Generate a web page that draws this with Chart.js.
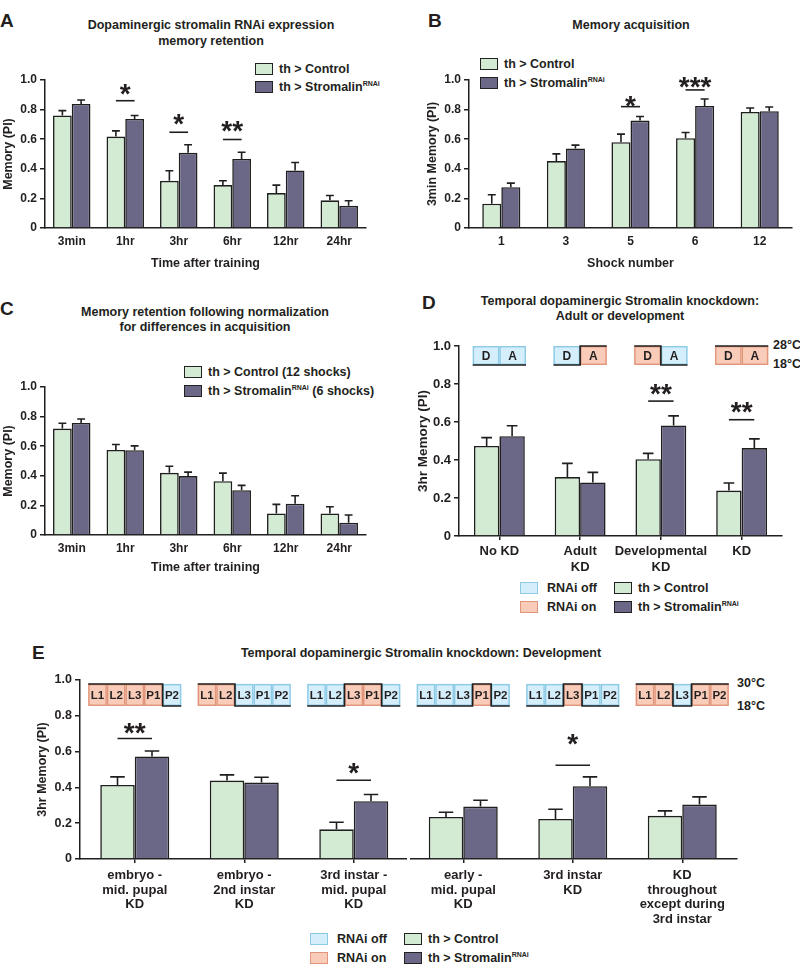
<!DOCTYPE html>
<html>
<head>
<meta charset="utf-8">
<script src="https://cdn.jsdelivr.net/npm/chart.js@4.4.1/dist/chart.umd.min.js"></script>
<style>
  body { margin: 0; width: 800px; height: 965px; position: relative; background: #fff;
         font-family: "Liberation Sans", Arial, sans-serif; font-weight: bold; color: #231f20; overflow: hidden; }
  canvas { position: absolute; }
  .letter { position: absolute; font-size: 19px; line-height: 19px; }
  .title { position: absolute; width: 400px; text-align: center; font-size: 12.5px; }
  .lg { position: absolute; display: flex; align-items: center; height: 14px; font-size: 12.5px; white-space: nowrap; }
  .sw { width: 18px; height: 12px; box-sizing: border-box; border: 1.5px solid #222; margin-right: 6px; }
  .sw.g { background: #d3ead3; }
  .sw.p { background: #6b6786; }
  .sw.off { background: #d4eefb; border-color: #8dcae6; margin-right: 9px; }
  .sw.on { background: #f8ccb8; border-color: #e1957b; margin-right: 9px; }
  sup { font-size: 7px; vertical-align: 5px; line-height: 0; }
  .temp { position: absolute; font-size: 12.5px; line-height: 16px; }
</style>
</head>
<body>

<div class="letter" style="left:0;top:11px">A</div>
<div class="letter" style="left:428px;top:11px">B</div>
<div class="letter" style="left:0;top:299px">C</div>
<div class="letter" style="left:422px;top:293px">D</div>
<div class="letter" style="left:32px;top:643px">E</div>

<div class="title" style="left:11px;top:17px;line-height:16px">Dopaminergic stromalin RNAi expression<br>memory retention</div>
<div class="title" style="left:431px;top:17px;line-height:16px">Memory acquisition</div>
<div class="title" style="left:5px;top:305px;line-height:15px">Memory retention following normalization<br>for differences in acquisition</div>
<div class="title" style="left:420px;top:294px;line-height:15px">Temporal dopaminergic Stromalin knockdown:<br>Adult or development</div>
<div class="title" style="left:221px;top:645px;line-height:16px">Temporal dopaminergic Stromalin knockdown: Development</div>

<div class="lg" style="left:255px;top:62px"><span class="sw g"></span><span>th &gt; Control</span></div>
<div class="lg" style="left:255px;top:80px"><span class="sw p"></span><span>th &gt; Stromalin<sup>RNAi</sup></span></div>

<div class="lg" style="left:480px;top:57px"><span class="sw g"></span><span>th &gt; Control</span></div>
<div class="lg" style="left:480px;top:76px"><span class="sw p"></span><span>th &gt; Stromalin<sup>RNAi</sup></span></div>

<div class="lg" style="left:184px;top:365px"><span class="sw g"></span><span>th &gt; Control (12 shocks)</span></div>
<div class="lg" style="left:184px;top:384px"><span class="sw p"></span><span>th &gt; Stromalin<sup>RNAi</sup> (6 shocks)</span></div>

<div class="lg" style="left:520px;top:581px"><span class="sw off"></span><span>RNAi off</span></div>
<div class="lg" style="left:520px;top:600px"><span class="sw on"></span><span>RNAi on</span></div>
<div class="lg" style="left:614px;top:581px"><span class="sw g"></span><span>th &gt; Control</span></div>
<div class="lg" style="left:614px;top:600px"><span class="sw p"></span><span>th &gt; Stromalin<sup>RNAi</sup></span></div>

<div class="lg" style="left:310px;top:932px"><span class="sw off"></span><span>RNAi off</span></div>
<div class="lg" style="left:310px;top:951px"><span class="sw on"></span><span>RNAi on</span></div>
<div class="lg" style="left:404px;top:932px"><span class="sw g"></span><span>th &gt; Control</span></div>
<div class="lg" style="left:404px;top:951px"><span class="sw p"></span><span>th &gt; Stromalin<sup>RNAi</sup></span></div>

<div class="temp" style="left:773px;top:337px">28°C</div>
<div class="temp" style="left:773px;top:356px">18°C</div>
<div class="temp" style="left:737px;top:675px">30°C</div>
<div class="temp" style="left:737px;top:698px">18°C</div>

<canvas id="cA" width="380" height="225" style="left:0;top:60px"></canvas>
<canvas id="cB" width="400" height="225" style="left:400px;top:60px"></canvas>
<canvas id="cC" width="380" height="220" style="left:0;top:360px"></canvas>
<canvas id="cD" width="400" height="250" style="left:400px;top:330px"></canvas>
<canvas id="cE" width="800" height="275" style="left:0;top:660px"></canvas>

<script>
// ---- data ----
var timeLabels = ['3min', '1hr', '3hr', '6hr', '12hr', '24hr'];

// A: retention
var retCtrl = [0.76, 0.618, 0.319, 0.29, 0.236, 0.187];
var retCtrlErr = [0.033, 0.038, 0.068, 0.029, 0.054, 0.033];
var retStrom = [0.838, 0.737, 0.508, 0.467, 0.389, 0.15];
var retStromErr = [0.027, 0.023, 0.054, 0.045, 0.054, 0.034];
var retSig = [[1, '*', 0.86, 0.95], [2, '*', 0.647, 0.75], [3, '**', 0.598, 0.70]];

// B: acquisition
var shockLabels = ['1', '3', '5', '6', '12'];
var acqCtrl = [0.164, 0.452, 0.58, 0.607, 0.784];
var acqCtrlErr = [0.061, 0.049, 0.054, 0.038, 0.027];
var acqStrom = [0.276, 0.537, 0.726, 0.825, 0.789];
var acqStromErr = [0.027, 0.023, 0.027, 0.047, 0.029];
var acqSig = [[2, '*', 0.82, 0.87], [3, '***', 0.933, 1.0]];

// C: normalized retention
var normCtrl = [0.719, 0.575, 0.42, 0.364, 0.146, 0.146];
var normCtrlErr = [0.036, 0.036, 0.045, 0.054, 0.061, 0.045];
var normStrom = [0.757, 0.573, 0.398, 0.303, 0.211, 0.083];
var normStromErr = [0.027, 0.029, 0.027, 0.032, 0.054, 0.052];

// D: adult / development
var kdLabels = [['No KD'], ['Adult', 'KD'], ['Developmental', 'KD'], ['KD']];
var kdCtrl = [0.474, 0.31, 0.404, 0.239];
var kdCtrlErr = [0.044, 0.072, 0.031, 0.04];
var kdStrom = [0.525, 0.282, 0.582, 0.463];
var kdStromErr = [0.055, 0.053, 0.05, 0.048];
var kdSig = [[2, '**', 0.71, 0.78], [3, '**', 0.612, 0.69]];
var kdStages = ['D', 'A'];
var kdStates = [[0, 0], [0, 1], [1, 0], [1, 1]];

// E: development stages
var devLabels = [['embryo -', 'mid. pupal', 'KD'], ['embryo -', '2nd instar', 'KD'], ['3rd instar -', 'mid. pupal', 'KD'],
                 ['early -', 'mid. pupal', 'KD'], ['3rd instar', 'KD'], ['KD', 'throughout', 'except during', '3rd instar']];
var devCtrl = [0.414, 0.438, 0.166, 0.235, 0.224, 0.241];
var devCtrlErr = [0.045, 0.032, 0.039, 0.026, 0.054, 0.028];
var devStrom = [0.573, 0.427, 0.323, 0.293, 0.407, 0.304];
var devStromErr = [0.03, 0.03, 0.037, 0.035, 0.052, 0.043];
var devSig = [[0, '**', 0.673, 0.74], [2, '*', 0.44, 0.52], [4, '*', 0.524, 0.68]];
var devStages = ['L1', 'L2', 'L3', 'P1', 'P2'];
var devStates = [[1, 1, 1, 1, 0], [1, 1, 0, 0, 0], [0, 0, 1, 1, 0], [0, 0, 0, 1, 0], [0, 0, 1, 0, 0], [1, 1, 0, 1, 1]];

var GREEN = '#d3ead3', PURPLE = '#6b6786', EDGE = '#1f1f1f', INK = '#231f20';
var FONT = '"Liberation Sans", Arial, sans-serif';

Chart.defaults.font.family = FONT;
Chart.defaults.font.weight = 'bold';
Chart.defaults.color = INK;

// error bars, significance marks, stage boxes
var annotPlugin = {
    id: 'annot',
    afterDatasetsDraw: function (chart, args, opts) {
        var ctx = chart.ctx, xs = chart.scales.x, ys = chart.scales.y;
        ctx.save();
        ctx.strokeStyle = EDGE;
        ctx.lineWidth = 1.6;
        (opts.errors || []).forEach(function (errs, di) {
            var vals = chart.data.datasets[di].data;
            chart.getDatasetMeta(di).data.forEach(function (bar, i) {
                var top = ys.getPixelForValue(vals[i] + errs[i]);
                var cap = bar.width * 0.21;
                ctx.beginPath();
                ctx.moveTo(bar.x, bar.y);
                ctx.lineTo(bar.x, top);
                ctx.moveTo(bar.x - cap, top);
                ctx.lineTo(bar.x + cap, top);
                ctx.stroke();
            });
        });

        (opts.sig || []).forEach(function (s) {
            var a = chart.getDatasetMeta(0).data[s[0]].x;
            var b = chart.getDatasetMeta(1).data[s[0]].x;
            var ly = ys.getPixelForValue(s[2]);
            ctx.beginPath();
            ctx.moveTo(a, ly);
            ctx.lineTo(b, ly);
            ctx.stroke();
            var fs = 28;
            ctx.fillStyle = INK;
            ctx.font = 'bold ' + fs + 'px ' + FONT;
            ctx.textAlign = 'center';
            ctx.textBaseline = 'alphabetic';
            ctx.fillText(s[1], (a + b) / 2, ys.getPixelForValue(s[3]) + 0.56 * fs);
        });

        if (opts.states) {
            var cw = (xs.getPixelForValue(1) - xs.getPixelForValue(0)) * opts.cellFrac;
            var t = ys.getPixelForValue(opts.boxTop), bt = ys.getPixelForValue(opts.boxBottom);
            opts.states.forEach(function (row, i) {
                var x0 = xs.getPixelForValue(i) - cw * row.length / 2;
                row.forEach(function (on, k) {
                    var xa = x0 + k * cw;
                    ctx.fillStyle = on ? '#f8ccb8' : '#d4eefb';
                    ctx.fillRect(xa, t, cw, bt - t);
                    ctx.strokeStyle = on ? '#e1957b' : '#8dcae6';
                    ctx.lineWidth = 1.4;
                    ctx.strokeRect(xa + 0.7, t + 0.7, cw - 1.4, bt - t - 1.4);
                });
                ctx.fillStyle = INK;
                ctx.font = 'bold ' + opts.stageFont + 'px ' + FONT;
                ctx.textAlign = 'center';
                ctx.textBaseline = 'middle';
                row.forEach(function (on, k) {
                    ctx.fillText(opts.stages[k], x0 + (k + 0.5) * cw, (t + bt) / 2 + 1);
                });
                ctx.strokeStyle = EDGE;
                ctx.lineWidth = 1.6;
                ctx.beginPath();
                row.forEach(function (on, k) {
                    var yy = on ? t : bt, xa = x0 + k * cw;
                    if (k === 0) ctx.moveTo(xa, yy);
                    else if (on !== row[k - 1]) ctx.lineTo(xa, yy);
                    ctx.lineTo(xa + cw, yy);
                });
                ctx.stroke();
            });
        }

        if (opts.breakAfter !== undefined) {
            var mx = (xs.getPixelForValue(opts.breakAfter) + xs.getPixelForValue(opts.breakAfter + 1)) / 2;
            ctx.fillStyle = '#fff';
            ctx.fillRect(mx - 1.5, ys.bottom - 3, 3, 6);
        }
        ctx.restore();
    }
};

function makeChart(id, cfg) {
    return new Chart(document.getElementById(id), {
        type: 'bar',
        data: {
            labels: cfg.labels,
            datasets: [
                { label: 'th > Control', data: cfg.ctrl, backgroundColor: GREEN, borderColor: EDGE, borderWidth: 1.6,
                  categoryPercentage: cfg.cat, barPercentage: 1 },
                { label: 'th > Stromalin RNAi', data: cfg.strom, backgroundColor: PURPLE, borderColor: EDGE, borderWidth: 1.6,
                  categoryPercentage: cfg.cat, barPercentage: 1 }
            ]
        },
        options: {
            responsive: false,
            animation: false,
            layout: { padding: cfg.pad },
            plugins: {
                legend: { display: false },
                tooltip: { enabled: false },
                annot: Object.assign({ errors: [cfg.ctrlErr, cfg.stromErr], sig: cfg.sig || [] }, cfg.extra || {})
            },
            scales: {
                x: {
                    afterFit: function (s) { s.height = cfg.xh; },
                    ticks: { padding: cfg.xtp, maxRotation: 0, autoSkip: false,
                             font: { size: cfg.xFont, lineHeight: cfg.xlh } },
                    grid: { offset: false, drawOnChartArea: false, drawTicks: !!cfg.xTicks, tickLength: 4,
                            color: EDGE, lineWidth: 1.5 },
                    border: { color: EDGE, width: 1.5 },
                    title: cfg.xTitle ? { display: true, text: cfg.xTitle, font: { size: 12.5 },
                                          padding: { top: 0, bottom: cfg.xttp } } : { display: false }
                },
                y: {
                    min: 0, max: 1,
                    afterFit: function (s) { s.width = cfg.yw; },
                    ticks: { stepSize: 0.2, padding: 3, font: { size: cfg.yFont },
                             callback: function (v) { return v === 0 ? '0' : v.toFixed(1); } },
                    grid: { drawOnChartArea: false, drawTicks: true, tickLength: 5, color: EDGE, lineWidth: 1.5 },
                    border: { color: EDGE, width: 1.5 },
                    title: { display: true, text: cfg.yTitle, font: { size: cfg.yTitleFont || 12.5 },
                             padding: { top: cfg.ytp, bottom: 0 } }
                }
            }
        },
        plugins: [annotPlugin]
    });
}

makeChart('cA', {
    labels: timeLabels, ctrl: retCtrl, ctrlErr: retCtrlErr, strom: retStrom, stromErr: retStromErr, sig: retSig,
    cat: 0.7, pad: { left: 0, top: 20, right: 14, bottom: 12 }, yw: 45, xh: 45,
    xtp: 6, xFont: 12, xlh: 1.2, xTitle: 'Time after training', xttp: 2,
    yFont: 12, yTitle: 'Memory (PI)', ytp: 1
});

makeChart('cB', {
    labels: shockLabels, ctrl: acqCtrl, ctrlErr: acqCtrlErr, strom: acqStrom, stromErr: acqStromErr, sig: acqSig,
    cat: 0.59, pad: { left: 24, top: 20, right: 8, bottom: 12 }, yw: 45, xh: 45,
    xtp: 6, xFont: 12, xlh: 1.2, xTitle: 'Shock number', xttp: 2,
    yFont: 12, yTitle: '3min Memory (PI)', ytp: 1.5
});

makeChart('cC', {
    labels: timeLabels, ctrl: normCtrl, ctrlErr: normCtrlErr, strom: normStrom, stromErr: normStromErr,
    cat: 0.7, pad: { left: 0, top: 27, right: 14, bottom: 0 }, yw: 45, xh: 45,
    xtp: 6, xFont: 12, xlh: 1.2, xTitle: 'Time after training', xttp: 5,
    yFont: 12, yTitle: 'Memory (PI)', ytp: 1
});

makeChart('cD', {
    labels: kdLabels, ctrl: kdCtrl, ctrlErr: kdCtrlErr, strom: kdStrom, stromErr: kdStromErr, sig: kdSig,
    cat: 0.63, pad: { left: 14, top: 16, right: 18, bottom: 4 }, yw: 45, xh: 40,
    xtp: 3, xFont: 13, xlh: '16px', xTicks: true,
    yFont: 13, yTitle: '3hr Memory (PI)', yTitleFont: 13.5, ytp: 1.5,
    extra: { stages: kdStages, states: kdStates, boxTop: 1.0, boxBottom: 0.9, cellFrac: 0.33, stageFont: 12 }
});

makeChart('cE', {
    labels: devLabels, ctrl: devCtrl, ctrlErr: devCtrlErr, strom: devStrom, stromErr: devStromErr, sig: devSig,
    cat: 0.63, pad: { left: 33, top: 20, right: 63, bottom: 11 }, yw: 47, xh: 65,
    xtp: 5, xFont: 13, xlh: '14.7px', xTicks: true,
    yFont: 12.5, yTitle: '3hr Memory (PI)', ytp: 2,
    extra: { stages: devStages, states: devStates, boxTop: 0.978, boxBottom: 0.855, cellFrac: 0.17, stageFont: 11.5,
             breakAfter: 2 }
});
</script>
</body>
</html>
